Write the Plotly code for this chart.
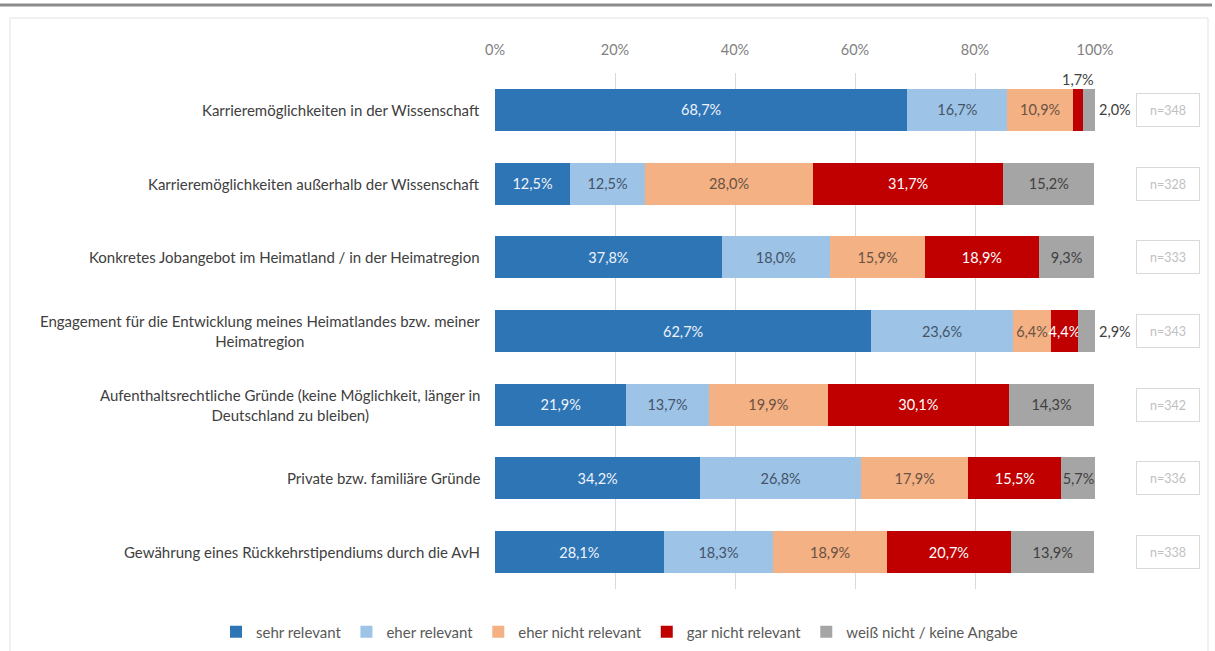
import plotly.graph_objects as go

W, H = 1215, 651
# plot area in pixels
PL, PR, PT, PB = 495, 1095, 73, 589

categories = [
    "Karrieremöglichkeiten in der Wissenschaft",
    "Karrieremöglichkeiten außerhalb der Wissenschaft",
    "Konkretes Jobangebot im Heimatland / in der Heimatregion",
    "Engagement für die Entwicklung meines Heimatlandes bzw. meiner<br>Heimatregion",
    "Aufenthaltsrechtliche Gründe (keine Möglichkeit, länger in<br>Deutschland zu bleiben)",
    "Private bzw. familiäre Gründe",
    "Gewährung eines Rückkehrstipendiums durch die AvH",
]
n_values = [348, 328, 333, 343, 342, 336, 338]

series_names = [
    "sehr relevant",
    "eher relevant",
    "eher nicht relevant",
    "gar nicht relevant",
    "weiß nicht / keine Angabe",
]
sehr = [68.7, 12.5, 37.8, 62.7, 21.9, 34.2, 28.1]
eher = [16.7, 12.5, 18.0, 23.6, 13.7, 26.8, 18.3]
eher_nicht = [10.9, 28.0, 15.9, 6.4, 19.9, 17.9, 18.9]
gar_nicht = [1.7, 31.7, 18.9, 4.4, 30.1, 15.5, 20.7]
weiss_nicht = [2.0, 15.2, 9.3, 2.9, 14.3, 5.7, 13.9]
series_values = [sehr, eher, eher_nicht, gar_nicht, weiss_nicht]

colors = ["#2E75B6", "#9DC3E6", "#F4B183", "#C00000", "#A5A5A5"]
text_colors = ["#EEF3FA", "#44546A", "#6A5244", "#FFFFFF", "#404040"]

FONT = "Lato, 'Open Sans', sans-serif"


def px_x(p):
    return (p - PL) / (PR - PL)


def px_y(p):
    return 1 - (p - PT) / (PB - PT)


def pct(v):
    return f"{v:.1f}%".replace(".", ",")


ids = list(range(len(categories)))

fig = go.Figure()
for name, vals, col, tcol in zip(series_names, series_values, colors, text_colors):
    # values below 3 % are labelled outside the bar
    labels = [pct(v) if v >= 3 else "" for v in vals]
    fig.add_trace(go.Bar(
        y=ids, x=vals, name=name, orientation="h",
        marker=dict(color=col, line=dict(width=0)),
        text=labels, textposition="inside", insidetextanchor="middle",
        textangle=0, constraintext="none",
        textfont=dict(color=tcol, size=14.5, family=FONT),
        width=0.57,
        hoverinfo="x+name",
    ))

annotations = []
for i in ids:
    if gar_nicht[i] < 3:
        start = sehr[i] + eher[i] + eher_nicht[i]
        annotations.append(dict(
            x=start + gar_nicht[i] / 2, y=i, xref="x", yref="y",
            text=pct(gar_nicht[i]), showarrow=False, yshift=30,
            font=dict(size=14.5, color="#404040", family=FONT)))
    if weiss_nicht[i] < 3:
        annotations.append(dict(
            x=100, y=i, xref="x", yref="y", xanchor="left", xshift=2,
            text=pct(weiss_nicht[i]), showarrow=False,
            font=dict(size=14.5, color="#404040", family=FONT)))

# category labels (centred lines, right aligned block)
for i, cat in enumerate(categories):
    annotations.append(dict(
        x=px_x(482), y=i, xref="paper", yref="y", xanchor="right",
        align="center", text=cat, showarrow=False,
        font=dict(size=15, color="#404040", family=FONT)))

# n boxes
for i, n in enumerate(n_values):
    annotations.append(dict(
        x=px_x(1168), y=i, xref="paper", yref="y", xanchor="center",
        text=f"n={n}", showarrow=False, width=60, height=30, borderpad=1,
        bordercolor="#D9D9D9", borderwidth=1, bgcolor="white",
        font=dict(size=12.5, color="#BFBFBF", family=FONT)))

shapes = [
    dict(type="line", xref="paper", yref="paper",
         x0=px_x(0), x1=px_x(1212), y0=px_y(5), y1=px_y(5),
         line=dict(color="#8C8C8C", width=3)),
    dict(type="rect", xref="paper", yref="paper",
         x0=px_x(10), x1=px_x(1208), y0=px_y(18), y1=px_y(700),
         line=dict(color="#E3E3E3", width=1)),
]

fig.update_layout(
    barmode="stack",
    width=W, height=H,
    margin=dict(l=PL, r=W - PR, t=PT, b=H - PB, autoexpand=False),
    paper_bgcolor="white", plot_bgcolor="white",
    separators=",.",
    font=dict(family=FONT, color="#595959"),
    xaxis=dict(
        range=[0, 100], side="top", tickvals=[0, 20, 40, 60, 80, 100],
        ticktext=["0%", "20%", "40%", "60%", "80%", "100%"],
        showgrid=True, gridcolor="#D9D9D9", gridwidth=1,
        zeroline=False, showline=False, ticks="",
        ticklabelstandoff=14,
        tickfont=dict(size=14.5, color="#7F7F7F", family=FONT),
        fixedrange=True,
    ),
    yaxis=dict(
        tickvals=ids, showticklabels=False, autorange="reversed",
        showgrid=False, zeroline=False, showline=False,
        fixedrange=True,
    ),
    legend=dict(
        orientation="h", xref="paper", yref="paper",
        x=px_x(216), y=px_y(632), xanchor="left", yanchor="middle",
        font=dict(size=15, color="#595959", family=FONT),
        traceorder="normal", itemwidth=30,
    ),
    annotations=annotations,
    shapes=shapes,
)

fig.write_html(
    "out.html",
    config={"displayModeBar": False},
    post_script="document.body.style.margin='0';",
)
